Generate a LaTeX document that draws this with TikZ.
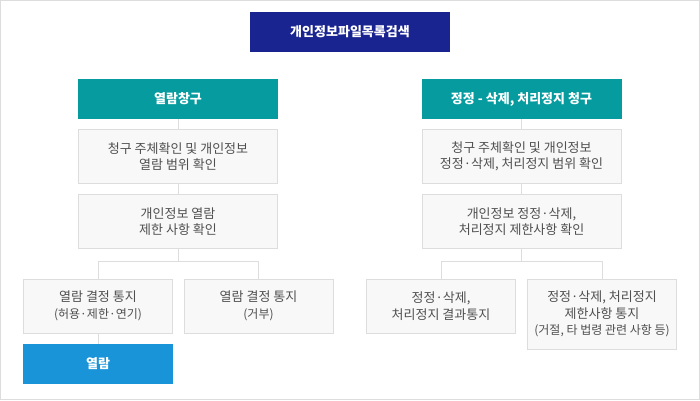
\documentclass[tikz,border=0pt]{standalone}
\usepackage{fontspec}
\setmainfont{Noto Sans CJK KR}
\usetikzlibrary{positioning}

\definecolor{navy}{HTML}{1A2490}
\definecolor{teal}{HTML}{069C9F}
\definecolor{skyblue}{HTML}{1A94D9}
\definecolor{boxgray}{HTML}{F8F8F8}
\definecolor{linegray}{HTML}{DDDDDD}
\definecolor{textgray}{HTML}{4F4F4F}

\begin{document}
\begin{tikzpicture}[x=1pt, y=-1pt,
    title/.style={fill=navy, text=white, font=\fontsize{13}{16}\selectfont\bfseries, minimum width=200pt, minimum height=40pt, inner sep=0pt},
    request/.style={fill=teal, text=white, font=\fontsize{13}{16}\selectfont\bfseries, minimum width=200pt, minimum height=40pt, inner sep=0pt},
    result/.style={fill=skyblue, text=white, font=\fontsize{13}{16}\selectfont\bfseries, minimum width=150pt, minimum height=40pt, inner sep=0pt},
    check/.style={draw=linegray, line width=1pt, fill=boxgray, text=textgray, align=center, font=\fontsize{13}{16.5}\selectfont, minimum width=199pt, minimum height=54pt, inner sep=0pt},
    notice/.style={check, minimum width=149pt},
    link/.style={draw=linegray, line width=1pt}
]

% Frame
\draw[linegray, line width=1pt, fill=white] (0.5,0.5) rectangle (699.5,399.5);
\useasboundingbox (0,0) rectangle (700,400);

% Title
\node[title] (search) at (350,32) {개인정보파일목록검색};

% Left column
\node[request] (lreq) at (178,99) {열람창구};
\node[check] (lchk1) at (178,156.5) {청구 주체확인 및 개인정보\\열람 범위 확인};
\node[check] (lchk2) at (178,221.5) {개인정보 열람\\제한 사항 확인};
\node[notice] (lok) at (98,306) {열람 결정 통지\\{\fontsize{12}{16}\selectfont (허용·제한·연기)}};
\node[notice] (lno) at (258.5,306) {열람 결정 통지\\{\fontsize{12}{16}\selectfont (거부)}};
\node[result] (view) at (98,364) {열람};
\coordinate (ljoin) at (178,261);

% Right column
\node[request] (rreq) at (521.5,99) {정정 - 삭제, 처리정지 청구};
\node[check] (rchk1) at (521.5,156.5) {청구 주체확인 및 개인정보\\정정·삭제, 처리정지 범위 확인};
\node[check] (rchk2) at (521.5,221.5) {개인정보 정정·삭제,\\처리정지 제한사항 확인};
\node[notice] (rok) at (441,306) {정정·삭제,\\처리정지 결과통지};
\node[notice, minimum height=70pt] (rno) at (602,314) {정정·삭제, 처리정지\\제한사항 통지\\{\fontsize{12}{16}\selectfont (거절, 타 법령 관련 사항 등)}};
\coordinate (rjoin) at (521.5,261);

% Links
\draw[link] (lreq) -- (lchk1);
\draw[link] (lchk1) -- (lchk2);
\draw[link] (lchk2) -- (ljoin);
\draw[link] (ljoin) -| (lok);
\draw[link] (ljoin) -| (lno);
\draw[link] (lok) -- (view);

\draw[link] (rreq) -- (rchk1);
\draw[link] (rchk1) -- (rchk2);
\draw[link] (rchk2) -- (rjoin);
\draw[link] (rjoin) -| (rok);
\draw[link] (rjoin) -| (rno);

\end{tikzpicture}
\end{document}
